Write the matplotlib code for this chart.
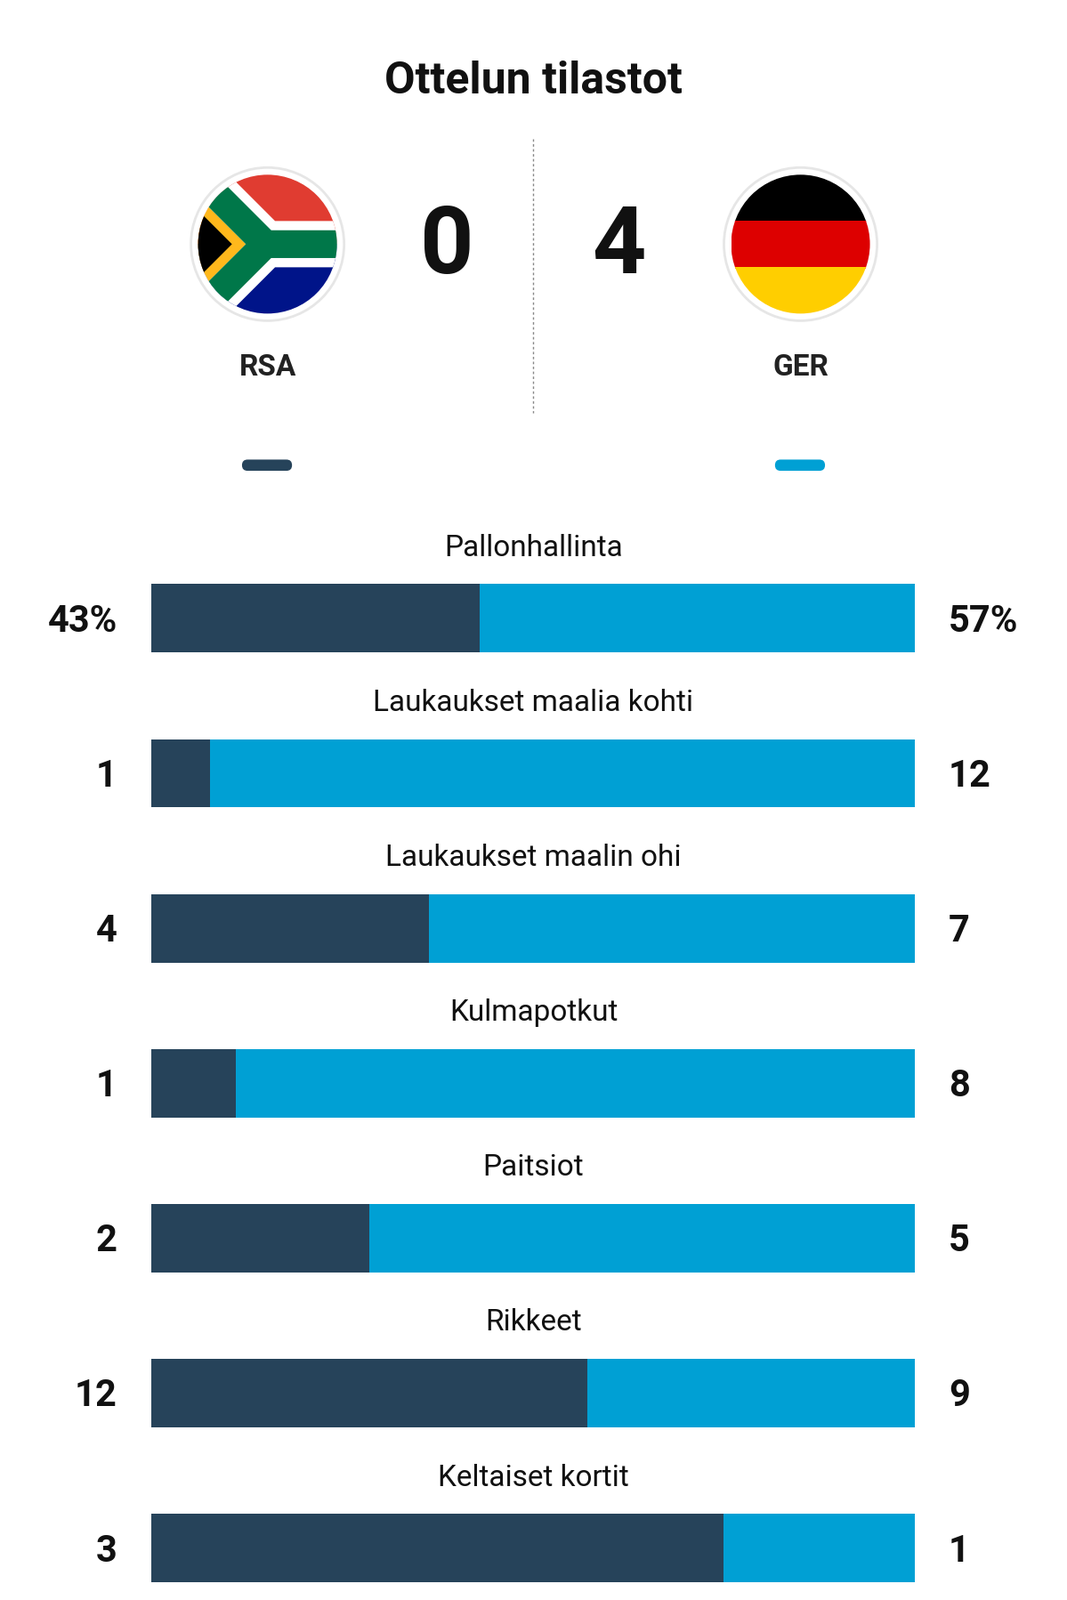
import numpy as np
import matplotlib
matplotlib.use('Agg')
import matplotlib.pyplot as plt
from matplotlib.patches import Circle, Polygon, Rectangle, FancyBboxPatch

TITLE = "Ottelun tilastot"
HOME, AWAY = "RSA", "GER"
HOME_GOALS, AWAY_GOALS = 0, 4
CATEGORIES = ["Pallonhallinta", "Laukaukset maalia kohti", "Laukaukset maalin ohi",
              "Kulmapotkut", "Paitsiot", "Rikkeet", "Keltaiset kortit"]
HOME_VALS = [43, 1, 4, 1, 2, 12, 3]
AWAY_VALS = [57, 12, 7, 8, 5, 9, 1]
SUFFIX = ["%", "", "", "", "", "", ""]

DARK = "#26435a"
BLUE = "#00a0d4"
FONT = "Roboto"

W, H = 1045, 1568
fig = plt.figure(figsize=(11.99, 17.99), dpi=100)
ax = fig.add_axes([0, 0, 1, 1])
ax.set_xlim(0, W)
ax.set_ylim(H, 0)
ax.axis('off')

ax.text(W/2, 80, TITLE, ha='center', va='center', fontsize=36, fontweight='bold',
        family=FONT, color='#111111')


def flag_circle(cx, cy, r):
    ax.add_patch(Circle((cx, cy), r + 7, facecolor='white', edgecolor='#e6e6e6',
                        lw=2, zorder=2))
    return Circle((cx, cy), r, transform=ax.transData)


def add_clipped(pts, color, clip):
    p = Polygon(pts, closed=True, facecolor=color, edgecolor='none', zorder=3)
    ax.add_patch(p)
    p.set_clip_path(clip)


def y_shape(h):
    s = np.sqrt(2)
    return [(0, 0), (h*s, 0), (1-h+h*s, 1-h), (3, 1-h), (3, 1+h), (1-h+h*s, 1+h),
            (h*s, 2), (0, 2), (0, 2-h*s), (1-h*s, 1), (0, h*s)]


r = 68
cx, cy = 262, 240
clip = flag_circle(cx, cy, r)
fl, ft = cx - r - 2, cy - r


def tr(pts):
    return [(fl + x * r, ft + y * r) for x, y in pts]


s2 = np.sqrt(2)
add_clipped(tr([(-1, -1), (4, -1), (4, 1), (-1, 1)]), '#e03c31', clip)
add_clipped(tr([(-1, 1), (4, 1), (4, 3), (-1, 3)]), '#001489', clip)
add_clipped(tr(y_shape(1/3)), 'white', clip)
add_clipped(tr([(0, 0.2*s2), (1-0.2*s2, 1), (0, 2-0.2*s2)]), '#ffb81c', clip)
add_clipped(tr(y_shape(0.2)), '#007749', clip)
add_clipped(tr([(0, 0.2*s2+0.2), (1-0.2*s2-0.2, 1), (0, 2-0.2*s2-0.2)]), 'black', clip)

cx2 = 784
clip2 = flag_circle(cx2, cy, r)
for i, c in enumerate(['#000000', '#dd0000', '#ffce00']):
    p = Rectangle((cx2 - r, cy - r + i * 2 * r / 3), 2 * r, 2 * r / 3 + 1,
                  facecolor=c, edgecolor='none', zorder=3)
    ax.add_patch(p)
    p.set_clip_path(clip2)

ax.text(438, 243, str(HOME_GOALS), ha='center', va='center', fontsize=76,
        fontweight='bold', family=FONT, color='#111111')
ax.text(606, 243, str(AWAY_GOALS), ha='center', va='center', fontsize=76,
        fontweight='bold', family=FONT, color='#111111')
ax.plot([522, 522], [137, 405], color='#888888', lw=1, ls=(0, (2, 2)))
ax.text(262, 360, HOME, ha='center', va='center', fontsize=24, fontweight='bold',
        family=FONT, color='#222222')
ax.text(784, 360, AWAY, ha='center', va='center', fontsize=24, fontweight='bold',
        family=FONT, color='#222222')
for x0, c in [(235, DARK), (757, BLUE)]:
    ax.add_patch(FancyBboxPatch((x0 + 2, 451), 49, 11, boxstyle="round,pad=0,rounding_size=5.5",
                                facecolor=c, edgecolor='none'))

# stat bars
X0, X1 = 148, 896
bw = X1 - X0
for i, (cat, hv, av, suf) in enumerate(zip(CATEGORIES, HOME_VALS, AWAY_VALS, SUFFIX)):
    yc = 606.5 + i * 151.8
    frac = hv / (hv + av)
    ax.barh(yc, frac * bw, left=X0, height=67, color=DARK, edgecolor='none')
    ax.barh(yc, (1 - frac) * bw, left=X0 + frac * bw, height=67, color=BLUE, edgecolor='none')
    ax.text(W/2, yc - 70, cat, ha='center', va='center', fontsize=24,
            family=FONT, color='#111111')
    ax.text(115, yc + 2, f"{hv}{suf}", ha='right', va='center', fontsize=30,
            fontweight='bold', family=FONT, color='#111111')
    ax.text(929, yc + 2, f"{av}{suf}", ha='left', va='center', fontsize=30,
            fontweight='bold', family=FONT, color='#111111')

fig.savefig("out.png", dpi=100, facecolor='white')
